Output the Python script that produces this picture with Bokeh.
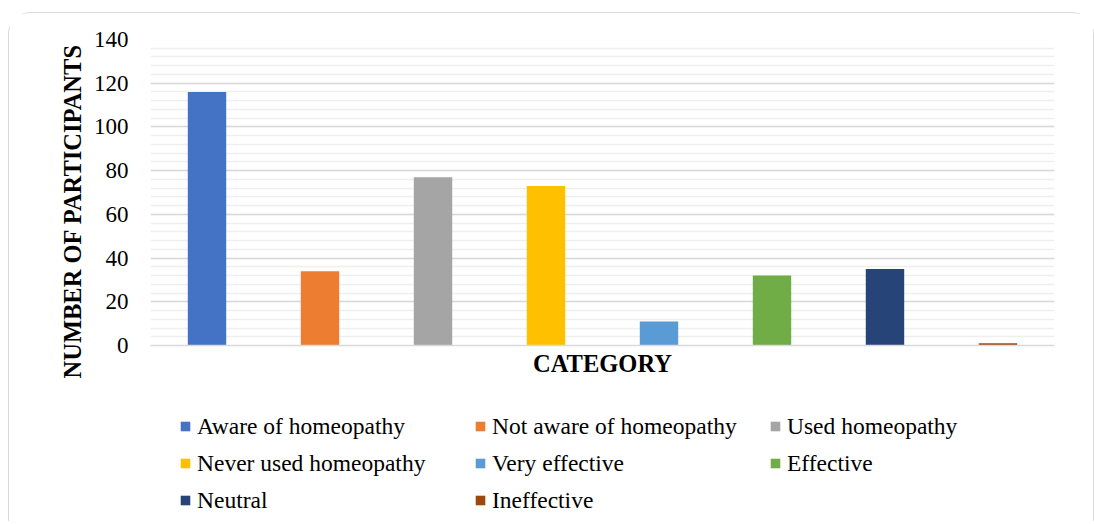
from bokeh.plotting import figure
from bokeh.layouts import column
from bokeh.models import (FactorRange, Range1d, Legend, LegendItem, Title,
                          SingleIntervalTicker, ColumnDataSource)
from bokeh.embed import file_html
from bokeh.resources import INLINE

categories = ["Aware of homeopathy", "Not aware of homeopathy", "Used homeopathy",
              "Never used homeopathy", "Very effective", "Effective", "Neutral",
              "Ineffective"]
participants = [116, 34, 77, 73, 11, 32, 35, 1]
colors = ["#4472C4", "#ED7D31", "#A5A5A5", "#FFC000", "#5B9BD5", "#70AD47",
          "#264478", "#9E480E"]
y_max = 140
y_step = 20

SERIF = "Liberation Serif"
src = ColumnDataSource(dict(category=categories, value=participants, color=colors))
xr = FactorRange(factors=categories, range_padding=0)

p = figure(width=1084, height=372, x_range=xr, y_range=Range1d(0, y_max),
           output_backend="svg", toolbar_location=None,
           min_border_left=141, min_border_right=39,
           min_border_top=26, min_border_bottom=40)
p.outline_line_color = None
p.background_fill_color = "white"
p.border_fill_color = "white"

r = p.vbar(x="category", top="value", width=0.34, fill_color="color",
           line_color=None, source=src)

# grid
p.xgrid.grid_line_color = None
p.yaxis.ticker = SingleIntervalTicker(interval=y_step, num_minor_ticks=5)
p.ygrid.grid_line_color = "#d9d9d9"
p.ygrid.grid_line_width = 1.5
p.ygrid.minor_grid_line_color = "#efefef"
p.ygrid.minor_grid_line_width = 1.3

# y axis
p.yaxis.axis_line_color = None
p.yaxis.major_tick_line_color = None
p.yaxis.minor_tick_line_color = None
p.yaxis.major_tick_out = 0
p.yaxis.minor_tick_out = 0
p.yaxis.major_label_text_font = SERIF
p.yaxis.major_label_text_font_size = "23px"
p.yaxis.major_label_text_color = "black"
p.yaxis.major_label_standoff = 22
p.add_layout(Title(text="NUMBER OF PARTICIPANTS", align="left", offset=-33,
                   text_font=SERIF, text_font_size="24.5px", text_font_style="bold",
                   text_color="black", standoff=10), "left")

# x axis (category names are shown only in the legend)
p.xaxis.axis_line_color = "#d9d9d9"
p.xaxis.axis_line_width = 1.5
p.xaxis.major_tick_line_color = None
p.xaxis.minor_tick_line_color = None
p.xaxis.major_tick_out = 0
p.xaxis.major_label_standoff = 0
p.xaxis.major_label_text_font_size = "1px"
p.xaxis.major_label_text_color = None
p.xaxis.axis_label = "CATEGORY"
p.xaxis.axis_label_text_font = SERIF
p.xaxis.axis_label_text_font_size = "24.5px"
p.xaxis.axis_label_text_font_style = "bold"
p.xaxis.axis_label_text_color = "black"
p.xaxis.axis_label_standoff = 4

# legend panel: a second figure holding the legend (its bars lie far outside its range)
pl = figure(width=1084, height=136, x_range=xr, y_range=Range1d(1000, 1001),
            output_backend="svg", toolbar_location=None,
            x_axis_location=None, y_axis_location=None,
            min_border_left=0, min_border_right=0, min_border_top=0, min_border_bottom=0)
pl.grid.visible = False
pl.outline_line_color = None
pl.background_fill_color = "white"
pl.border_fill_color = "white"
rl = pl.vbar(x="category", top="value", width=0.34, fill_color="color",
             line_color=None, source=src)

items = [LegendItem(label=c, renderers=[rl], index=i) for i, c in enumerate(categories)]
legend = Legend(items=items, ncols=3, orientation="horizontal", location=(29, 6),
                glyph_width=12, glyph_height=12, label_standoff=6,
                label_width=270, label_height=30, spacing=7, padding=0, margin=0,
                border_line_color=None, background_fill_alpha=0,
                label_text_font=SERIF, label_text_font_size="23.5px",
                label_text_color="black")
pl.add_layout(legend, "center")

layout = column(p, pl, spacing=0,
                styles={"border-top": "1.5px solid #d9d9d9",
                        "border-left": "1.5px solid #d9d9d9",
                        "border-right": "1.5px solid #d9d9d9",
                        "border-radius": "22px 22px 0 0",
                        "margin-top": "12px", "margin-left": "8px",
                        "background-color": "white"})

open("out.html", "w").write(file_html(layout, INLINE))
